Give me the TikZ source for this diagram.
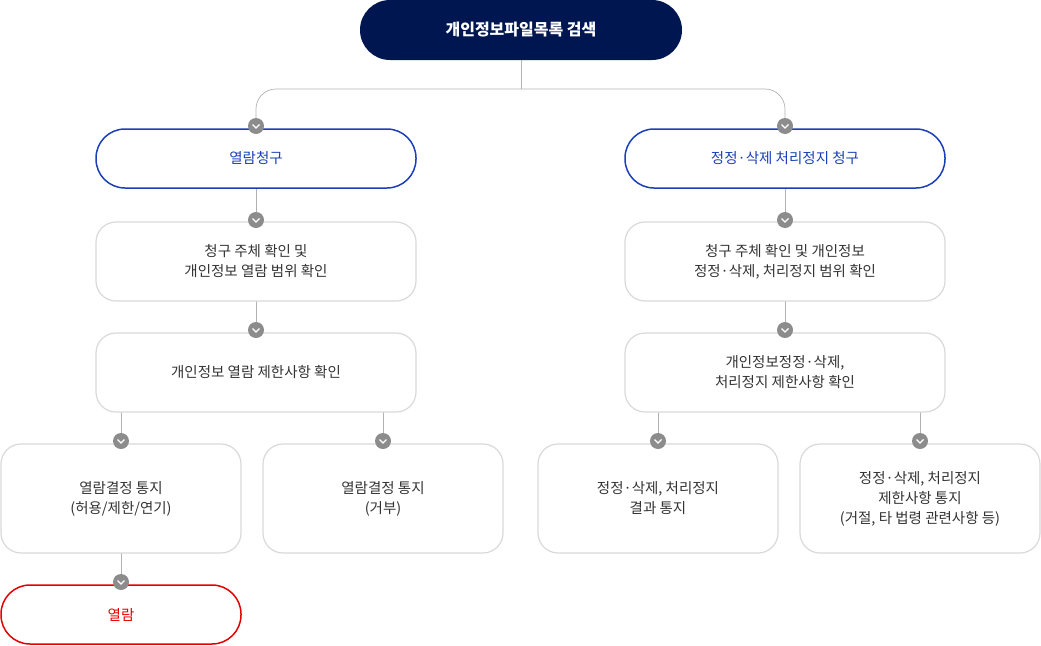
\documentclass[tikz,border=0pt]{standalone}
\usepackage{fontspec}
\setmainfont{Noto Sans CJK KR}
\begin{document}
\begin{tikzpicture}[x=1pt,y=-1pt,
  base/.style={rounded corners=20pt,draw=black!15,line width=1.2pt},
  blu/.style={draw=bluec,line width=1.5pt,rounded corners=29pt},
  redb/.style={draw=red!90!black,line width=1.5pt,rounded corners=29pt},
  ln/.style={draw=black!30,line width=0.7pt},
  mk/.style={circle,fill=black!45,minimum size=16pt,inner sep=0pt}]
\useasboundingbox (0,0) rectangle (1041,645);
\definecolor{navy}{HTML}{001650}
\definecolor{bluec}{HTML}{1A3FB8}
\newcommand{\mkr}[2]{\node[mk] at (#1,#2) {}; \draw[white,line width=1.3pt] (#1-3.5,#2-1.5) -- (#1,#2+2) -- (#1+3.5,#2-1.5);}
% top
\fill[navy,rounded corners=30pt] (360,0) rectangle (682,60);
\node[text=white,font=\fontsize{16}{19}\selectfont\bfseries] (top) at (521,30) {개인정보파일목록 검색};
\coordinate (tb) at (521,60);
\draw[ln] (tb) -- (521,89);
\draw[ln,rounded corners=20pt] (256,129) -- (256,89) -- (785,89) -- (785,129);
\draw[ln] (256,188) -- (256,222); \draw[ln] (256,301) -- (256,333);
\draw[ln] (121,412) -- (121,444); \draw[ln] (383,412) -- (383,444);
\draw[ln] (121,553) -- (121,585);
\draw[ln] (785,188) -- (785,222); \draw[ln] (785,301) -- (785,333);
\draw[ln] (658,412) -- (658,444); \draw[ln] (920,412) -- (920,444);
\begin{scope}[every node/.style={align=center,font=\fontsize{14.5}{20}\selectfont,text=black!80}]
\draw[base,blu,fill=white] (96,129) rectangle (416,188); \node[text=bluec] (a1) at (256,158.5) {열람청구};
\draw[base,fill=white] (96,222) rectangle (416,301); \node (a2) at (256,261.5) {청구 주체 확인 및\\개인정보 열람 범위 확인};
\draw[base,fill=white] (96,333) rectangle (416,412); \node (a3) at (256,372.5) {개인정보 열람 제한사항 확인};
\draw[base,fill=white] (1,444) rectangle (241,553); \node (a4) at (121,498.5) {열람결정 통지\\(허용/제한/연기)};
\draw[base,fill=white] (263,444) rectangle (503,553); \node (a5) at (383,498.5) {열람결정 통지\\(거부)};
\draw[base,redb,fill=white] (1,585) rectangle (241,644); \node[text=red!90!black] (a6) at (121,614.5) {열람};
\draw[base,blu,fill=white] (625,129) rectangle (945,188); \node[text=bluec] (b1) at (785,158.5) {정정·삭제 처리정지 청구};
\draw[base,fill=white] (625,222) rectangle (945,301); \node (b2) at (785,261.5) {청구 주체 확인 및 개인정보\\정정·삭제, 처리정지 범위 확인};
\draw[base,fill=white] (625,333) rectangle (945,412); \node (b3) at (785,372.5) {개인정보정정·삭제,\\처리정지 제한사항 확인};
\draw[base,fill=white] (538,444) rectangle (778,553); \node (b4) at (658,498.5) {정정·삭제, 처리정지\\결과 통지};
\draw[base,fill=white] (800,444) rectangle (1040,553); \node (b5) at (920,498.5) {정정·삭제, 처리정지\\제한사항 통지\\(거절, 타 법령 관련사항 등)};
\end{scope}
\mkr{256}{126}\mkr{785}{126}
\mkr{256}{220}\mkr{256}{330}\mkr{121}{441}\mkr{383}{441}\mkr{121}{582}
\mkr{785}{220}\mkr{785}{330}\mkr{658}{441}\mkr{920}{441}
\end{tikzpicture}
\end{document}
